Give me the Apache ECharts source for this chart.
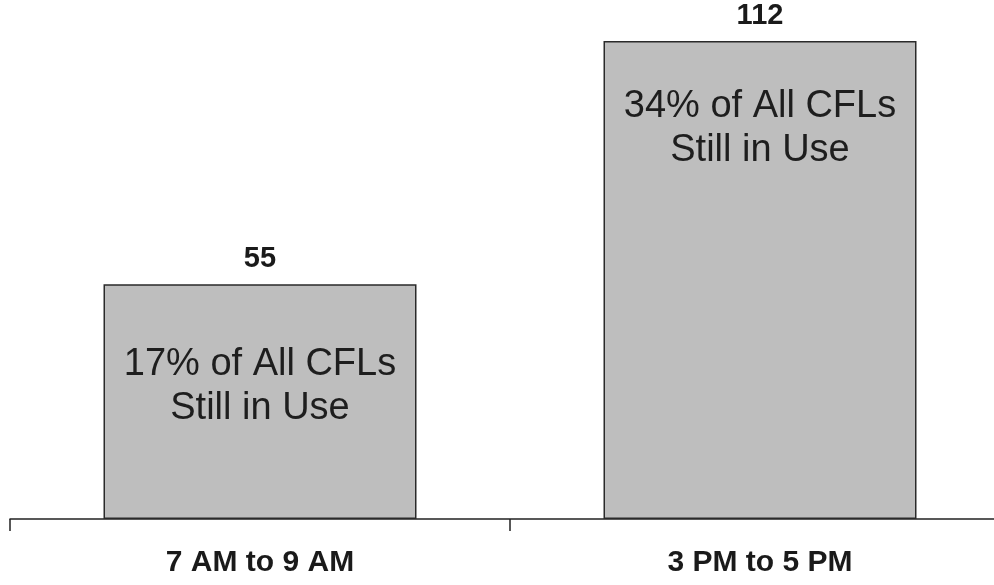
<!DOCTYPE html>
<html>
<head>
<meta charset="utf-8">
<script src="https://cdn.jsdelivr.net/npm/echarts@6/dist/echarts.min.js"></script>
<style>
  html, body { margin: 0; padding: 0; background: #ffffff; overflow: hidden; width: 994px; height: 585px; }
  /* The canvas runs a little past the right edge so the last category boundary falls off-page */
  #chart { width: 1010px; height: 585px; }
</style>
</head>
<body>
<div id="chart"></div>
<script>
// Time windows on the category axis
const categories = ['7 AM to 9 AM', '3 PM to 5 PM'];
// Number of CFLs in use during each window
const counts = [55, 112];
// Share of all CFLs, written inside each bar
const shareNotes = ['17% of All CFLs\nStill in Use', '34% of All CFLs\nStill in Use'];

// Distance from bar top to the note text inside each bar
const noteDistance = [58, 44];

const chart = echarts.init(document.getElementById('chart'), null, { renderer: 'canvas' });

const font = '"Liberation Sans", Arial, Helvetica, sans-serif';

chart.setOption({
  animation: false,
  backgroundColor: '#ffffff',
  grid: { left: 10, right: 0, top: 41, bottom: 66, containLabel: false },
  xAxis: {
    type: 'category',
    data: categories,
    axisLine: { show: true, lineStyle: { color: '#222', width: 1.5 } },
    axisTick: { show: true, length: 12, lineStyle: { color: '#222', width: 1.5 } },
    axisLabel: {
      margin: 29,
      color: '#1a1a1a',
      fontFamily: font,
      fontWeight: 'bold',
      fontSize: 30,
      lineHeight: 30
    }
  },
  yAxis: {
    type: 'value',
    min: 0,
    max: 112,
    show: false,
    splitLine: { show: false }
  },
  series: [
    {
      type: 'bar',
      data: counts,
      barWidth: 313,
      itemStyle: { color: '#bebebe', borderColor: '#2a2a2a', borderWidth: 1.5 },
      label: {
        show: true,
        position: 'top',
        distance: 11,
        color: '#1a1a1a',
        fontFamily: font,
        fontWeight: 'bold',
        fontSize: 29,
        lineHeight: 29
      },
      z: 2
    },
    {
      type: 'bar',
      barGap: '-100%',
      barWidth: 313,
      data: counts.map((v, i) => ({
        value: v,
        label: { distance: noteDistance[i] }
      })),
      itemStyle: { color: 'rgba(0,0,0,0)', borderWidth: 0 },
      label: {
        show: true,
        position: 'insideTop',
        formatter: (p) => shareNotes[p.dataIndex],
        color: '#1e1e1e',
        fontFamily: font,
        fontSize: 38,
        lineHeight: 44,
        align: 'center'
      },
      silent: true,
      z: 3
    }
  ]
});
</script>
</body>
</html>
